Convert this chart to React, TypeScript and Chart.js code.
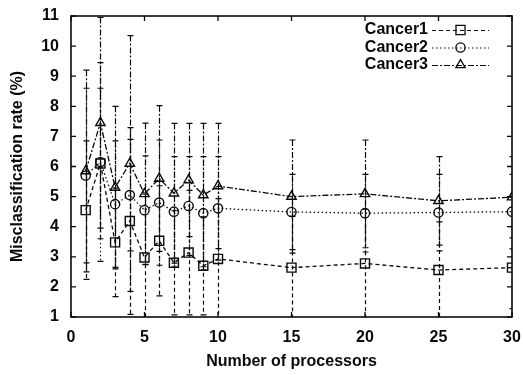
import React, { useEffect, useRef } from "react";
import { Chart, registerables } from "chart.js";

Chart.register(...registerables);

const xValues = [1, 2, 3, 4, 5, 6, 7, 8, 9, 10, 15, 20, 25, 30];
const cancer1 = [4.55, 6.1, 3.48, 4.19, 2.98, 3.53, 2.8, 3.14, 2.7, 2.93, 2.64, 2.78, 2.56, 2.64];
const cancer2 = [5.7, 6.15, 4.75, 5.05, 4.55, 4.8, 4.5, 4.69, 4.45, 4.61, 4.49, 4.45, 4.47, 4.5];
const cancer3 = [5.85, 7.45, 5.3, 6.1, 5.09, 5.6, 5.11, 5.55, 5.05, 5.35, 5.0, 5.09, 4.86, 4.98];
const err1 = [2.3, 2.5, 1.8, 3.1, 2.1, 1.83, 1.73, 2.07, 1.63, 2.0, 1.7, 1.8, 1.6, 1.36];
const err2 = [2.9, 3.3, 2.1, 1.85, 1.8, 2.08, 1.83, 1.64, 1.88, 1.72, 1.25, 1.29, 1.27, 1.24];
const err3 = [3.35, 3.5, 2.7, 4.25, 2.35, 2.42, 2.32, 1.88, 2.38, 2.08, 1.88, 1.79, 1.47, 1.35];
const seriesNames = ["Cancer1", "Cancer2", "Cancer3"];
const xTicks = [0, 5, 10, 15, 20, 25, 30];
const yTicks = [1, 2, 3, 4, 5, 6, 7, 8, 9, 10, 11];

const FONT = "'Liberation Sans', Arial, Helvetica, sans-serif";
const INK = "#0a0a0a";

const series = [
  { name: seriesNames[0], values: cancer1, errors: err1, dash: [4, 3], style: "rect", radius: 6.4 },
  { name: seriesNames[1], values: cancer2, errors: err2, dash: [1.5, 2.5], style: "circle", radius: 4.6 },
  { name: seriesNames[2], values: cancer3, errors: err3, dash: [6, 2, 2, 2], style: "triangle", radius: 5.4 },
];

function drawMarker(ctx: CanvasRenderingContext2D, style: string, r: number, cx: number, cy: number) {
  ctx.beginPath();
  if (style === "rect") {
    const h = r * Math.SQRT1_2;
    ctx.rect(cx - h, cy - h, 2 * h, 2 * h);
  } else if (style === "circle") {
    ctx.arc(cx, cy, r, 0, Math.PI * 2);
  } else {
    ctx.moveTo(cx, cy - r);
    ctx.lineTo(cx + r * Math.sin(Math.PI / 3), cy + r / 2);
    ctx.lineTo(cx - r * Math.sin(Math.PI / 3), cy + r / 2);
    ctx.closePath();
  }
  ctx.stroke();
}

const errorBarPlugin = {
  id: "errorBars",
  beforeDatasetsDraw(chart: any) {
    const { ctx, chartArea, scales } = chart;
    const x = scales.x;
    const y = scales.y;
    ctx.save();
    ctx.beginPath();
    ctx.rect(chartArea.left, chartArea.top - 1, chartArea.right - chartArea.left, chartArea.bottom - chartArea.top + 1);
    ctx.clip();
    ctx.strokeStyle = INK;
    ctx.lineWidth = 1.2;
    series.forEach((s) => {
      xValues.forEach((xv, i) => {
        const px = Math.round(x.getPixelForValue(xv)) + 0.5;
        const top = y.getPixelForValue(s.values[i] + s.errors[i]);
        const bot = y.getPixelForValue(s.values[i] - s.errors[i]);
        ctx.setLineDash(s.dash);
        ctx.beginPath();
        ctx.moveTo(px, top);
        ctx.lineTo(px, bot);
        ctx.stroke();
        ctx.setLineDash([]);
        ctx.beginPath();
        ctx.moveTo(px - 3, top);
        ctx.lineTo(px + 3, top);
        ctx.moveTo(px - 3, bot);
        ctx.lineTo(px + 3, bot);
        ctx.stroke();
      });
    });
    ctx.restore();
  },
};

const framePlugin = {
  id: "frame",
  afterDraw(chart: any) {
    const { ctx, chartArea, scales } = chart;
    const x = scales.x;
    const y = scales.y;
    const { left, right, top, bottom } = chartArea;
    ctx.save();
    ctx.strokeStyle = INK;
    ctx.lineWidth = 1.6;
    ctx.setLineDash([]);
    ctx.strokeRect(left, top, right - left, bottom - top);
    ctx.lineWidth = 1.3;
    ctx.beginPath();
    xTicks.forEach((v) => {
      const px = x.getPixelForValue(v);
      ctx.moveTo(px, bottom);
      ctx.lineTo(px, bottom - 5);
      ctx.moveTo(px, top);
      ctx.lineTo(px, top + 5);
    });
    yTicks.forEach((v) => {
      const py = y.getPixelForValue(v);
      ctx.moveTo(left, py);
      ctx.lineTo(left + 5, py);
      ctx.moveTo(right, py);
      ctx.lineTo(right - 5, py);
    });
    ctx.stroke();

    // legend
    ctx.font = `bold 16px ${FONT}`;
    ctx.fillStyle = INK;
    ctx.textAlign = "right";
    ctx.textBaseline = "middle";
    const textRight = right - 84;
    const lineL = right - 80;
    const lineR = right - 23;
    series.forEach((s, i) => {
      const yy = top + 14 + i * 17.5;
      ctx.fillText(s.name, textRight, yy);
      ctx.lineWidth = 1.2;
      ctx.setLineDash(s.dash);
      ctx.beginPath();
      ctx.moveTo(lineL, yy + 0.5);
      ctx.lineTo(lineR, yy + 0.5);
      ctx.stroke();
      ctx.setLineDash([]);
      ctx.lineWidth = 1.3;
      drawMarker(ctx, s.style, s.radius, (lineL + lineR) / 2, yy);
    });
    ctx.restore();
  },
};

export default function App() {
  const ref = useRef<HTMLCanvasElement | null>(null);
  useEffect(() => {
    document.body.style.margin = "0";
    document.body.style.background = "#fff";
    if (!ref.current) return;
    const chart = new Chart(ref.current, {
      type: "line",
      data: {
        datasets: series.map((s) => ({
          label: s.name,
          data: xValues.map((xv, i) => ({ x: xv, y: s.values[i] })),
          borderColor: INK,
          borderWidth: 1.3,
          borderDash: s.dash,
          pointStyle: s.style as any,
          pointRadius: s.radius,
          pointBorderWidth: 1.4,
          pointBorderColor: INK,
          pointBackgroundColor: "rgba(0,0,0,0)",
          tension: 0,
          fill: false,
        })),
      },
      options: {
        responsive: false,
        animation: false,
        devicePixelRatio: 1,
        layout: { padding: { top: 16, right: 11, left: 0, bottom: 0 } },
        plugins: { legend: { display: false }, tooltip: { enabled: false } },
        scales: {
          x: {
            type: "linear",
            min: 0,
            max: 30,
            afterBuildTicks: (axis: any) => {
              axis.ticks = xTicks.map((v) => ({ value: v }));
            },
            ticks: { color: INK, font: { family: FONT, size: 16, weight: "bold" }, padding: 11, maxRotation: 0 },
            grid: { display: false, drawTicks: false },
            border: { display: false },
            title: {
              display: true,
              text: "Number of processors",
              color: INK,
              font: { family: FONT, size: 16, weight: "bold" },
              padding: { top: 0, bottom: 4 },
            },
            afterFit: (axis: any) => {
              axis.height = 58;
              axis.paddingRight = 0;
              axis.paddingLeft = 0;
            },
          },
          y: {
            type: "linear",
            min: 1,
            max: 11,
            afterBuildTicks: (axis: any) => {
              axis.ticks = yTicks.map((v) => ({ value: v }));
            },
            ticks: { color: INK, font: { family: FONT, size: 16, weight: "bold" }, padding: 12 },
            grid: { display: false, drawTicks: false },
            border: { display: false },
            title: {
              display: true,
              text: "Misclassification rate (%)",
              color: INK,
              font: { family: FONT, size: 16, weight: "bold" },
              padding: { top: 8, bottom: 0 },
            },
            afterFit: (axis: any) => {
              axis.width = 71;
              axis.paddingTop = 0;
              axis.paddingBottom = 0;
            },
          },
        },
      },
      plugins: [errorBarPlugin, framePlugin],
    } as any);
    return () => chart.destroy();
  }, []);
  return <canvas ref={ref} width={523} height={375} style={{ display: "block" }} />;
}
